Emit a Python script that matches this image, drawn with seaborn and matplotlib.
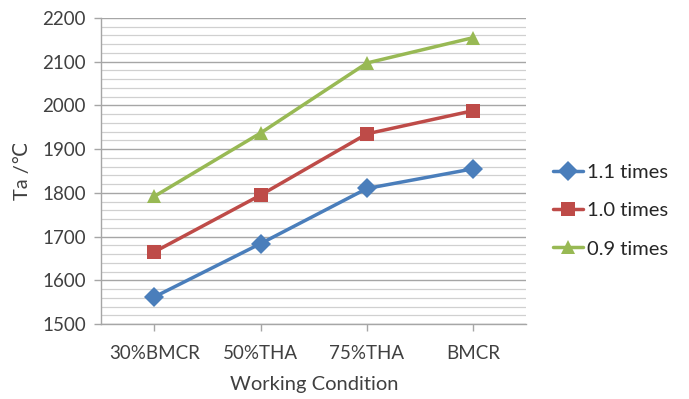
import pandas as pd
import seaborn as sns
import matplotlib
matplotlib.use('Agg')
import matplotlib.pyplot as plt
from matplotlib.ticker import MultipleLocator

condizioni = ['30%BMCR', '50%THA', '75%THA', 'BMCR']
serie = ['1.1 times', '1.0 times', '0.9 times']
ta_11 = [1562, 1684, 1810, 1855]
ta_10 = [1665, 1795, 1935, 1988]
ta_09 = [1792, 1937, 2097, 2155]

colori = {'1.1 times': '#4A7EBB', '1.0 times': '#BE4B48', '0.9 times': '#98B954'}
marcatori = {'1.1 times': 'D', '1.0 times': 's', '0.9 times': '^'}

df = pd.DataFrame({
    'cond': condizioni * 3,
    'ta': ta_11 + ta_10 + ta_09,
    'serie': [s for s in serie for _ in condizioni],
})

sns.set_style('white')
plt.rcParams['font.family'] = ['Lato', 'DejaVu Sans']

fig = plt.figure(figsize=(6.89, 3.99), dpi=100)
ax = fig.add_axes([0.147, 0.188, 0.617, 0.767])

sns.lineplot(data=df, x='cond', y='ta', hue='serie', style='serie',
             palette=colori, markers=marcatori, dashes=False,
             linewidth=2.5, markersize=10.5, markeredgewidth=0, ax=ax, sort=False)

ax.set_xlim(-0.5, 3.5)
ax.set_ylim(1500, 2200)
ax.yaxis.set_major_locator(MultipleLocator(100))
ax.yaxis.set_minor_locator(MultipleLocator(20))
ax.grid(which='major', axis='y', color='#A6A6A6', linewidth=1.0)
ax.grid(which='minor', axis='y', color='#D0D0D0', linewidth=0.9)
ax.grid(False, axis='x')
ax.set_axisbelow(True)

for lato in ['top', 'right']:
    ax.spines[lato].set_visible(False)
for lato in ['left', 'bottom']:
    ax.spines[lato].set_color('#A6A6A6')
    ax.spines[lato].set_linewidth(1.0)

ax.tick_params(axis='both', which='major', labelsize=13.5, colors='#A6A6A6',
               labelcolor='#404040', length=5, width=1, direction='out',
               left=True, bottom=True, pad=6)
ax.tick_params(axis='x', which='major', pad=10)
ax.tick_params(axis='y', which='minor', left=False)

ax.set_xlabel('Working Condition', fontsize=14.5, color='#404040', labelpad=10)
ax.set_ylabel('Ta /℃', fontsize=14.5, color='#404040', labelpad=8,
              family=['Lato', 'DejaVu Sans'])

ax.legend(loc='center left', bbox_to_anchor=(1.02, 0.37), frameon=False,
          fontsize=14.5, handlelength=1.5, labelspacing=1.05, handletextpad=0.2,
          title=None)

plt.savefig('out.png', dpi=100)
